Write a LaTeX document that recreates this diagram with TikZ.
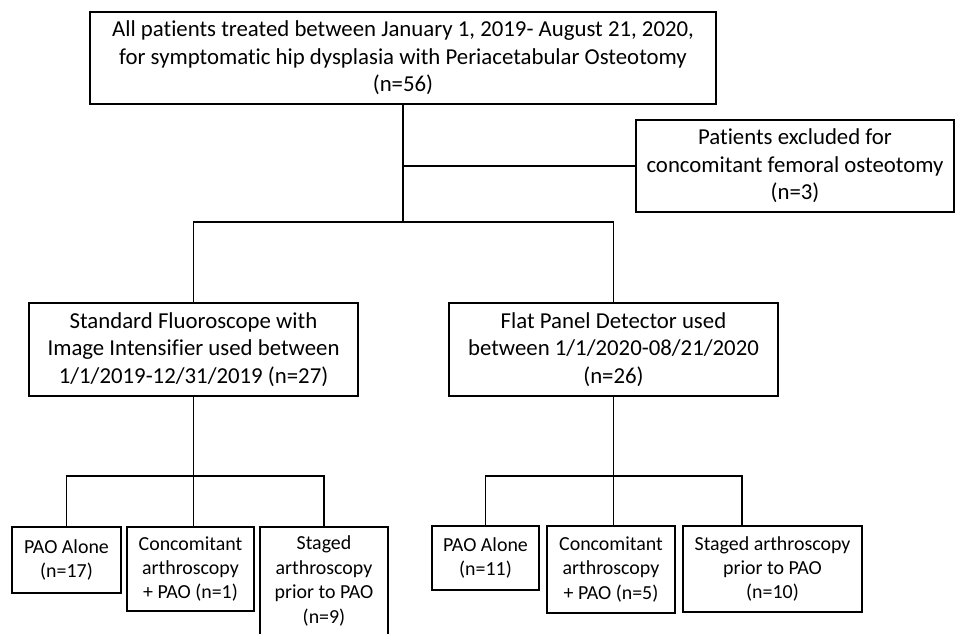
\documentclass[tikz,border=0pt]{standalone}
\usepackage{fontspec}
\setmainfont{Carlito}[Ligatures=NoCommon]
\begin{document}
\begin{tikzpicture}[x=1pt,y=-1pt,
  box/.style={draw=black,line width=1.9pt,rectangle,inner sep=0pt,align=center,
    font=\fontsize{22.8}{27.6}\selectfont},
  sbox/.style={box,font=\fontsize{19.9}{24.4}\selectfont},
  link/.style={draw=black,line width=1.9pt}]
\useasboundingbox (0,0) rectangle (956,633);
\clip (0,0) rectangle (956,633);
\fill[white] (0,0) rectangle (956,633);

\node[box,minimum width=626pt,minimum height=92pt] (top) at (403,58)
  {All patients treated between January 1, 2019- August 21, 2020,\\
   for symptomatic hip dysplasia with Periacetabular Osteotomy\\(n=56)};
\node[box,minimum width=318pt,minimum height=92pt] (excl) at (795,166)
  {Patients excluded for\\concomitant femoral osteotomy\\(n=3)};
\node[box,minimum width=329pt,minimum height=93pt] (std) at (193.5,349.5)
  {Standard Fluoroscope with\\Image Intensifier used between\\1/1/2019-12/31/2019 (n=27)};
\node[box,minimum width=329pt,minimum height=93pt] (flat) at (613.5,349.5)
  {Flat Panel Detector used\\between 1/1/2020-08/21/2020\\(n=26)};

\node[sbox,minimum width=109pt,minimum height=66pt] (pa1) at (66.5,560)
  {PAO Alone\\(n=17)};
\node[sbox,minimum width=127pt,minimum height=84pt] (ca1) at (190.5,569)
  {Concomitant\\arthroscopy\\+ PAO (n=1)};
\node[sbox,minimum width=128pt,minimum height=108pt] (sa1) at (324,581)
  {Staged\\arthroscopy\\prior to PAO\\(n=9)};

\node[sbox,minimum width=107pt,minimum height=64pt] (pa2) at (485.5,558)
  {PAO Alone\\(n=11)};
\node[sbox,minimum width=128pt,minimum height=87pt] (ca2) at (611,569.5)
  {Concomitant\\arthroscopy\\+ PAO (n=5)};
\node[sbox,minimum width=179pt,minimum height=86pt] (sa2) at (772.5,569)
  {Staged arthroscopy\\prior to PAO\\(n=10)};

\coordinate (j1) at (403,222);
\coordinate (j3) at (193.5,476);
\coordinate (j4) at (613.5,476);
\coordinate (s2top) at ([xshift=-30.5pt]sa2.north);

\draw[link] (top.south) -- (j1);
\draw[link] (top.south |- excl.west) -- (excl.west);
\draw[link] (std.north) |- (j1) -| (flat.north);

\draw[link] (std.south) -- (std.south |- ca1.north);
\draw[link] (pa1.north) |- (j3) -| (sa1.north);

\draw[link] (flat.south) -- (flat.south |- ca2.north);
\draw[link] (pa2.north) |- (j4) -| (s2top);
\end{tikzpicture}
\end{document}
